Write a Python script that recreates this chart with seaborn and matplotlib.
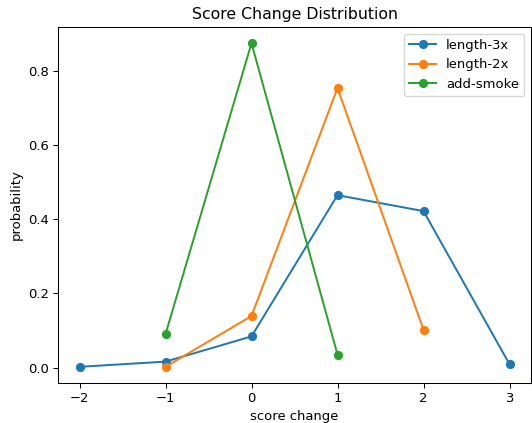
import seaborn as sns
import numpy as np
import matplotlib.pyplot as plt
import pandas as pd

# values
len3_x = [-2, -1, 0, 1, 2, 3]
len3_p = [0.002, 0.016, 0.084, 0.465, 0.422, 0.009]
len2_x = [-1, 0, 1, 2]
len2_p = [0.002, 0.139, 0.754, 0.102]
smoke_x = [-1, 0, 1]
smoke_p = [0.090, 0.875, 0.035]

df = pd.concat([
    pd.DataFrame({"score change": len3_x, "probability": len3_p, "run": "length-3x"}),
    pd.DataFrame({"score change": len2_x, "probability": len2_p, "run": "length-2x"}),
    pd.DataFrame({"score change": smoke_x, "probability": smoke_p, "run": "add-smoke"}),
])

# reference looks like a slightly downscaled default figure
dpi = 94.5
fig, ax = plt.subplots(figsize=(532 / dpi, 423 / dpi), dpi=dpi)
fig.subplots_adjust(left=58 / 532, right=531 / 532, top=1 - 27 / 423, bottom=1 - 383 / 423)

sns.lineplot(data=df, x="score change", y="probability", hue="run",
             marker="o", markersize=7, markeredgewidth=0,
             palette=["#1f77b4", "#ff7f0e", "#2ca02c"], ax=ax)

ax.set_title("Score Change Distribution")
ax.legend(title=None, loc="upper right")
ax.set_xticks(range(-2, 4))
ax.set_yticks(np.arange(0, 0.9, 0.2))

plt.savefig("out.png", dpi=dpi)
